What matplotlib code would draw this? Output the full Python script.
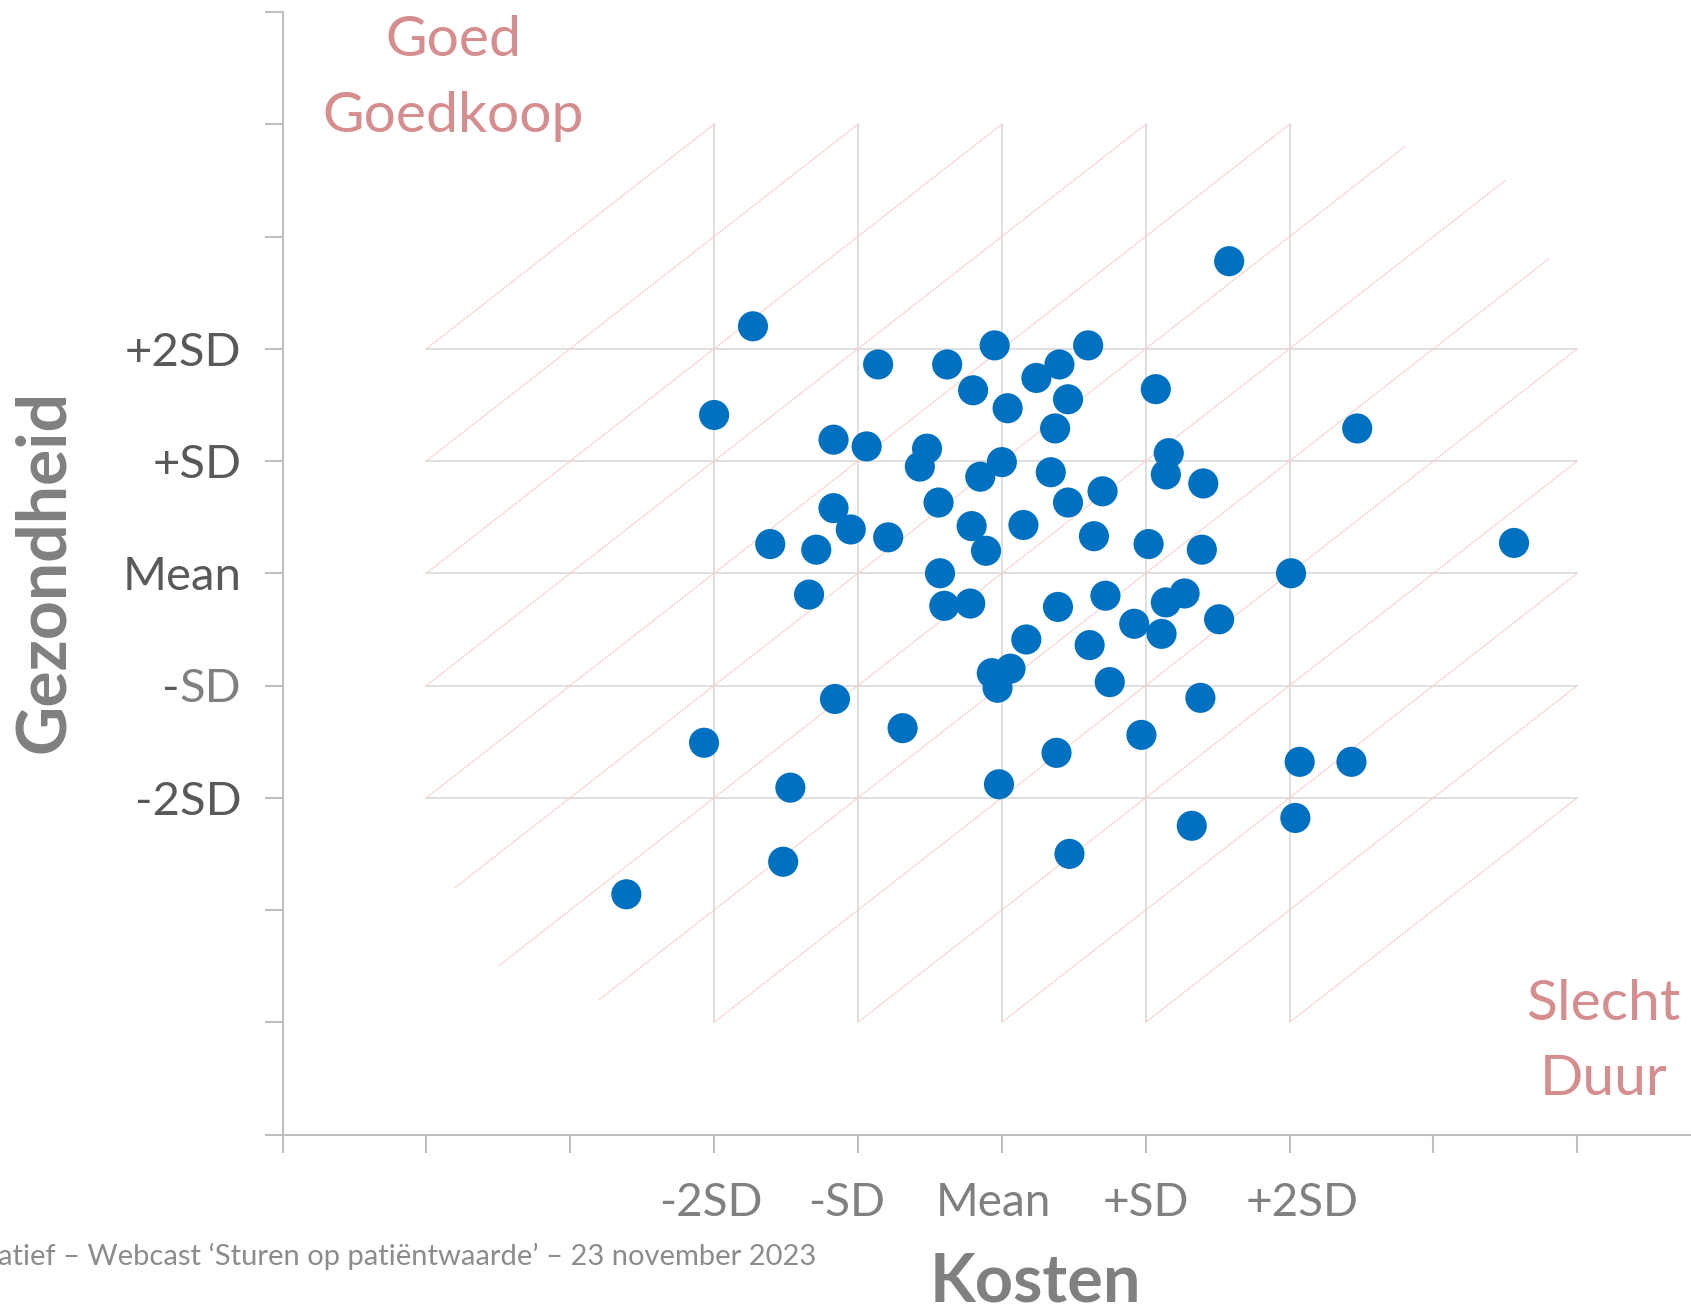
import matplotlib
matplotlib.use("Agg")
import matplotlib.pyplot as plt

# ---------------- data ----------------
kosten = [-1.73, -2.00, -0.86, -0.38, -0.05, -0.20, 0.24, 0.40, 0.60, 0.46,
          0.04, 0.37, -1.17, -0.94, -0.52, -0.57, 0.00, -0.15, 0.34, -0.44,
          0.70, 0.46, -1.17, -1.05, -1.61, -1.29, -0.79, -0.21, 0.15, -0.11,
          0.64, -0.43, 1.58, 1.07, 2.47, 1.16, 1.14, 1.40, 1.02, 1.39,
          2.01, 3.56, -1.34, -0.40, -0.22, 0.39, 0.17, 0.61, -0.07, 0.06,
          -0.03, -1.16, -0.69, -2.07, -1.47, -0.02, 0.38, -1.52, 0.47, -2.61,
          0.72, 1.14, 1.27, 0.92, 1.11, 1.51, 0.75, 1.38, 0.97, 2.07,
          2.43, 1.32, 2.04]
gezondheid = [2.20, 1.41, 1.86, 1.86, 2.03, 1.63, 1.74, 1.86, 2.03, 1.55,
              1.47, 1.29, 1.19, 1.13, 1.11, 0.95, 0.99, 0.86, 0.90, 0.63,
              0.73, 0.63, 0.58, 0.39, 0.26, 0.21, 0.32, 0.42, 0.43, 0.20,
              0.33, 0.00, 2.78, 1.64, 1.29, 1.07, 0.88, 0.80, 0.26, 0.21,
              0.00, 0.27, -0.19, -0.29, -0.27, -0.30, -0.59, -0.64, -0.89, -0.85,
              -1.02, -1.12, -1.38, -1.51, -1.91, -1.88, -1.60, -2.57, -2.50, -2.86,
              -0.20, -0.26, -0.18, -0.45, -0.54, -0.41, -0.97, -1.11, -1.44, -1.68,
              -1.68, -2.25, -2.18]

sd_levels = [-2, -1, 0, 1, 2]
sd_labels = ["-2SD", "-SD", "Mean", "+SD", "+2SD"]
x_ticks = list(range(-5, 5))
y_ticks = list(range(-5, 6))
# diagonal iso-value lines y = x + c, with their x extent
diag_offsets = [6, 5, 4, 3, 2, 1, 0, -1, -2, -3, -4, -5, -6]
diag_x_start = [-4, -4, -4, -4, -4, -3.8, -3.5, -2.8, -2, -1, 0, 1, 2]
diag_x_end = [-2, -1, 0, 1, 2, 2.8, 3.5, 3.8, 4, 4, 4, 4, 4]
x_label_pos = [-2.02, -1.08, -0.06, 1.0, 2.09]

# ---------------- style ----------------
FONT = ["Lato", "DejaVu Sans"]
plt.rcParams["font.family"] = FONT
W, H = 1691, 1313
fig = plt.figure(figsize=(W / 100, H / 100), dpi=100)
fig.patch.set_facecolor("white")

left = 282.5 / W
bottom = 178.5 / H
top = 12 / H
ax = fig.add_axes([left, bottom, 1 - left, 1 - top - bottom])
ax.set_xlim(-5, 4.79)
ax.set_ylim(-5, 5)

axis_col = "#bfbfbf"
grid_col = "#d9d9d9"
pink = "#fbd3cd"
for s in ["top", "right"]:
    ax.spines[s].set_visible(False)
for s in ["left", "bottom"]:
    ax.spines[s].set_color(axis_col)
    ax.spines[s].set_linewidth(1.5)

# grid (only inside the -4..4 square)
for v in sd_levels:
    ax.plot([v, v], [-4, 4], color=grid_col, lw=1.2, zorder=1)
    ax.plot([-4, 4], [v, v], color=grid_col, lw=1.2, zorder=1)
for c, x0, x1 in zip(diag_offsets, diag_x_start, diag_x_end):
    ax.plot([x0, x1], [x0 + c, x1 + c], color=pink, lw=0.8, zorder=1.5)

ax.scatter(kosten, gezondheid, s=470, color="#0070c0", edgecolors="none", zorder=3)

# ticks
ax.set_xticks(x_ticks)
ax.set_xticklabels([""] * len(x_ticks))
ylabs = []
for t in y_ticks:
    if t in sd_levels and t != -1:
        ylabs.append(sd_labels[sd_levels.index(t)])
    else:
        ylabs.append("")
ax.set_yticks(y_ticks)
ax.set_yticklabels(ylabs)
ax.tick_params(axis="both", direction="out", length=13, width=1.5, color=axis_col)
ax.tick_params(axis="y", pad=16.5, labelsize=34, labelcolor="#595959")

# -SD label: dark minus, lighter SD
sd_txt = ax.annotate("SD", xy=(0, -1), xycoords=("axes fraction", "data"),
                     xytext=(-(13 + 16.5), 0), textcoords="offset points",
                     ha="right", va="center_baseline", fontsize=34, color="#808080",
                     annotation_clip=False)
ax.annotate("-", xy=(0, 0), xycoords=sd_txt, ha="right", va="bottom",
            fontsize=34, color="#595959", annotation_clip=False)

# x labels
for xp, lab in zip(x_label_pos, sd_labels):
    ax.annotate(lab, xy=(xp, 0), xycoords=("data", "axes fraction"),
                xytext=(0, -81 * 0.72), textcoords="offset points",
                ha="center", va="baseline", fontsize=33, color="#808080",
                annotation_clip=False)

# axis titles
fig.text(1035 / W, 1 - 1283 / H, "Kosten", ha="center", va="center",
         fontsize=48, fontweight="bold", color="#808080")
fig.text(45 / W, 1 - 571.5 / H, "Gezondheid", ha="center", va="center",
         rotation=90, fontsize=49, fontweight="bold", color="#808080")

# corner annotations
rose = "#d58d8d"
fig.text(453 / W, 1 - 56 / H, "Goed", ha="center", va="baseline", fontsize=41, color=rose)
fig.text(453 / W, 1 - 131.6 / H, "Goedkoop", ha="center", va="baseline", fontsize=41, color=rose)
fig.text(1603.6 / W, 1 - 1020 / H, "Slecht", ha="center", va="baseline", fontsize=41, color=rose)
fig.text(1603.6 / W, 1 - 1094.6 / H, "Duur", ha="center", va="baseline", fontsize=41, color=rose)

# footer
fig.text(-2 / W, 1 - 1265 / H,
         "atief \u2013 Webcast \u2018Sturen op pati\u00ebntwaarde\u2019 \u2013 23 november 2023",
         ha="left", va="baseline", fontsize=21, color="#8c8c8c")

fig.savefig("out.png", dpi=100, facecolor="white")
